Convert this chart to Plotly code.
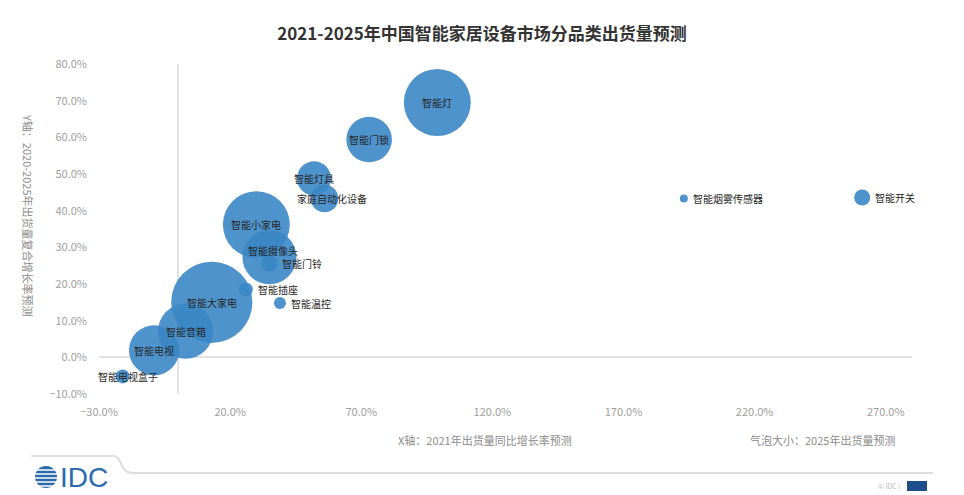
import math
import plotly.graph_objects as go

categories = ["智能灯", "智能门锁", "智能灯具", "家庭自动化设备", "智能小家电", "智能摄像头",
              "智能门铃", "智能插座", "智能温控", "智能大家电", "智能音箱", "智能电视",
              "智能电视盒子", "智能烟雾传感器", "智能开关"]
# X: 2021 YoY growth forecast (%)
growth_2021 = [99, 73, 52, 56, 30, 35, 35, 26, 39, 13, 3, -9, -21, 193, 261]
# Y: 2020-2025 CAGR forecast (%)
cagr_2020_2025 = [69.5, 59.4, 48.8, 43.3, 36.2, 27.3, 25.6, 18.5, 14.8, 15.0, 7.1, 1.9, -5.2, 43.3, 43.6]
# bubble size: 2025 shipments forecast (relative)
shipments_2025 = [112, 52, 29, 19, 112, 73, 6.4, 4.9, 3.6, 165, 76, 63, 4.9, 1.6, 6.4]

# labels drawn beside the bubble instead of on it, and small nudges
right_labels = {"智能门铃", "智能插座", "智能温控", "智能烟雾传感器", "智能开关"}
nudge = {"智能摄像头": (4, 7), "家庭自动化设备": (7, 0), "智能电视盒子": (5, 0)}

FONT = "Noto Sans CJK SC"
SIZEREF = 0.05

# plot area in pixels, used to place the decorations outside it
L, R, T, B = 99, 52, 64, 101
W, H = 964, 495
PW, PH = W - L - R, H - T - B


def px(x):
    return (x - L) / PW


def py(y):
    return (H - B - y) / PH


fig = go.Figure()
fig.add_trace(go.Scatter(
    x=growth_2021, y=cagr_2020_2025, mode="markers", cliponaxis=False,
    text=categories, hoverinfo="text",
    marker=dict(size=shipments_2025, sizemode="area", sizeref=SIZEREF,
                color="#3b87c7", opacity=0.9, line=dict(width=0)),
))

for name, xv, yv, sv in zip(categories, growth_2021, cagr_2020_2025, shipments_2025):
    dx, dy = nudge.get(name, (0, 0))
    if name in right_labels:
        r = math.sqrt(sv / (2 * SIZEREF))
        fig.add_annotation(x=xv, y=yv, text=name, showarrow=False, xanchor="left", yanchor="middle",
                           xshift=r + 3 + dx, yshift=dy,
                           font=dict(family=FONT, size=10, color="#262626"))
    else:
        fig.add_annotation(x=xv, y=yv, text=name, showarrow=False, xanchor="center", yanchor="middle",
                           xshift=dx, yshift=dy,
                           font=dict(family=FONT, size=10, color="#262626"))

fig.update_xaxes(range=[-30, 280], tick0=-30, dtick=50, ticksuffix="%", tickformat=".1f",
                 showgrid=False, zeroline=True, zerolinecolor="#e3e3e3", zerolinewidth=1.5,
                 showline=False, ticks="", ticklabelstandoff=10,
                 tickfont=dict(family=FONT, size=11, color="#a0a0a0"))
fig.update_yaxes(range=[-10, 80], tick0=-10, dtick=10, ticksuffix="%", tickformat=".1f",
                 showgrid=False, zeroline=True, zerolinecolor="#e3e3e3", zerolinewidth=1.5,
                 showline=False, ticks="", ticklabelstandoff=11,
                 tickfont=dict(family=FONT, size=11, color="#a0a0a0"))

fig.update_layout(
    width=W, height=H,
    margin=dict(l=L, r=R, t=T, b=B),
    paper_bgcolor="white", plot_bgcolor="white",
    showlegend=False,
    title=dict(text="<b>2021-2025年中国智能家居设备市场分品类出货量预测</b>",
               x=0.5, xanchor="center", y=1 - 34 / H, yanchor="middle",
               font=dict(family=FONT, size=17, color="#333333")),
)

gray = "#8c8c8c"
fig.add_annotation(text="X轴：2021年出货量同比增长率预测", xref="paper", yref="paper",
                   x=px(485), y=py(440), showarrow=False, xanchor="center", yanchor="middle",
                   font=dict(family=FONT, size=11, color=gray))
fig.add_annotation(text="气泡大小：2025年出货量预测", xref="paper", yref="paper",
                   x=px(822), y=py(440), showarrow=False, xanchor="center", yanchor="middle",
                   font=dict(family=FONT, size=11, color=gray))
fig.add_annotation(text="Y轴：2020-2025年出货量复合增长率预测", xref="paper", yref="paper",
                   x=px(28), y=py(215), showarrow=False, textangle=90,
                   xanchor="center", yanchor="middle",
                   font=dict(family=FONT, size=11, color=gray))

# footer: IDC logo, divider line, copyright box
fig.add_shape(type="path", xref="paper", yref="paper",
              path=f"M {px(31)} {py(456)} L {px(114)} {py(456)} "
                   f"C {px(122)} {py(456)} {px(120)} {py(473)} {px(132)} {py(473)} "
                   f"L {px(933)} {py(473)}",
              line=dict(color="#dedede", width=2))
fig.add_shape(type="circle", xref="paper", yref="paper",
              x0=px(35), x1=px(57), y0=py(488), y1=py(466),
              fillcolor="#2a6aad", line=dict(width=0))
for yy in [470, 474, 478, 482, 486]:
    fig.add_shape(type="line", xref="paper", yref="paper",
                  x0=px(34), x1=px(58), y0=py(yy), y1=py(yy),
                  line=dict(color="white", width=1.5))
fig.add_annotation(text="IDC", xref="paper", yref="paper", x=px(84), y=py(477),
                   showarrow=False, xanchor="center", yanchor="middle",
                   font=dict(family="Liberation Sans", size=28, color="#2a6aad"))
fig.add_annotation(text="© IDC |", xref="paper", yref="paper", x=px(889), y=py(486),
                   showarrow=False, xanchor="center", yanchor="middle",
                   font=dict(family=FONT, size=7, color="#bbbbbb"))
fig.add_shape(type="rect", xref="paper", yref="paper",
              x0=px(907), x1=px(927), y0=py(491), y1=py(481),
              fillcolor="#1f4e8c", line=dict(width=0))

fig.write_html("out.html", config={"displayModeBar": False},
               post_script="document.body.style.margin = '0';")
